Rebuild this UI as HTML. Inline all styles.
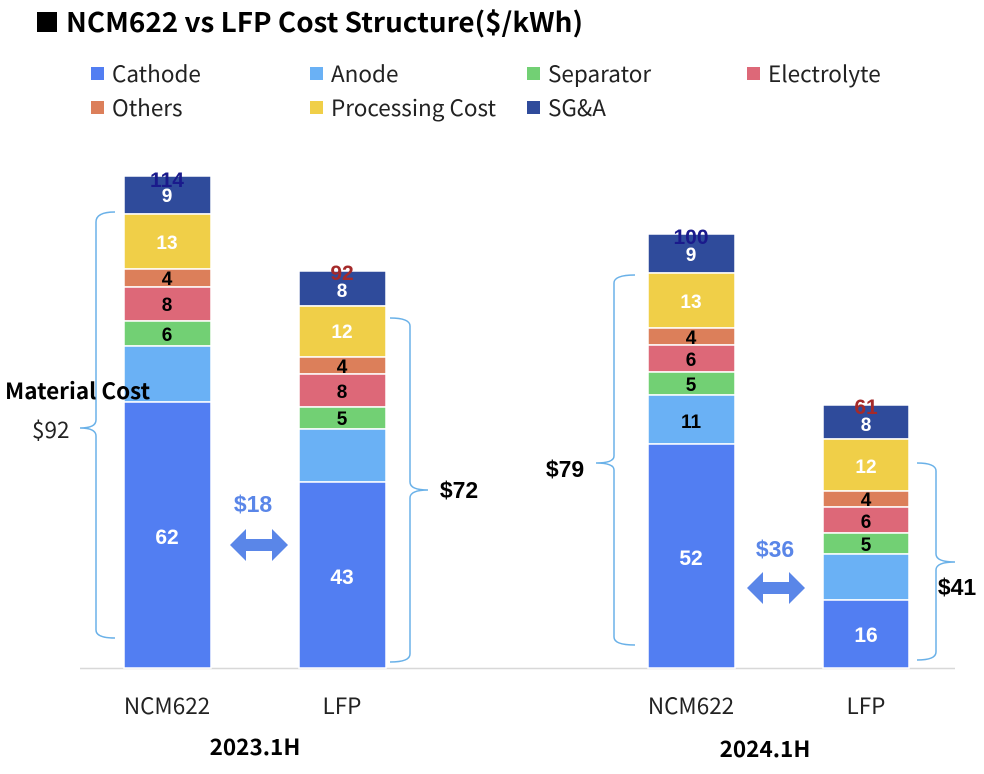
<!DOCTYPE html>
<html><head><meta charset="utf-8"><style>
html,body{margin:0;padding:0;background:#fff;width:984px;height:774px;overflow:hidden}
svg{display:block}
.n{font-family:"Noto Sans CJK SC","Liberation Sans",sans-serif}
.b{font-family:"Liberation Sans Narrow","Liberation Sans",sans-serif;font-weight:bold}
</style></head><body>
<svg width="984" height="774" viewBox="0 0 984 774" xmlns="http://www.w3.org/2000/svg">
<rect x="37" y="12" width="20" height="20" fill="#000"/>
<text class="n" x="66" y="32" font-size="27" font-weight="bold" fill="#000" textLength="517" lengthAdjust="spacingAndGlyphs">NCM622 vs LFP Cost Structure($/kWh)</text>
<g class="n" font-size="22.5" fill="#222">
<rect x="91" y="67" width="13" height="13" fill="#527ef2"/><text x="112" y="82">Cathode</text>
<rect x="310" y="67" width="13" height="13" fill="#6ab1f5"/><text x="331" y="82">Anode</text>
<rect x="527" y="67" width="13" height="13" fill="#72d074"/><text x="548" y="82">Separator</text>
<rect x="747" y="67" width="13" height="13" fill="#dd6878"/><text x="768" y="82">Electrolyte</text>
<rect x="91" y="101" width="13" height="13" fill="#dc7f5a"/><text x="112" y="116">Others</text>
<rect x="310" y="101" width="13" height="13" fill="#f0cf48"/><text x="331" y="116">Processing Cost</text>
<rect x="527" y="101" width="13" height="13" fill="#2f4b9b"/><text x="548" y="116">SG&amp;A</text>
</g>
<line x1="80" y1="668.5" x2="955" y2="668.5" stroke="#d8d8d8" stroke-width="1.5"/>
<g stroke="#fff" stroke-width="1.5">
<rect x="124" y="176" width="87" height="38" fill="#2f4b9b"/>
<rect x="124" y="214" width="87" height="55" fill="#f0cf48"/>
<rect x="124" y="269" width="87" height="18" fill="#dc7f5a"/>
<rect x="124" y="287" width="87" height="34" fill="#dd6878"/>
<rect x="124" y="321" width="87" height="25" fill="#72d074"/>
<rect x="124" y="346" width="87" height="56" fill="#6ab1f5"/>
<rect x="124" y="402" width="87" height="266" fill="#527ef2"/>
<rect x="299" y="271" width="87" height="35" fill="#2f4b9b"/>
<rect x="299" y="306" width="87" height="51" fill="#f0cf48"/>
<rect x="299" y="357" width="87" height="17" fill="#dc7f5a"/>
<rect x="299" y="374" width="87" height="33" fill="#dd6878"/>
<rect x="299" y="407" width="87" height="22" fill="#72d074"/>
<rect x="299" y="429" width="87" height="53" fill="#6ab1f5"/>
<rect x="299" y="482" width="87" height="186" fill="#527ef2"/>
<rect x="648" y="234" width="87" height="39" fill="#2f4b9b"/>
<rect x="648" y="273" width="87" height="55" fill="#f0cf48"/>
<rect x="648" y="328" width="87" height="17" fill="#dc7f5a"/>
<rect x="648" y="345" width="87" height="27" fill="#dd6878"/>
<rect x="648" y="372" width="87" height="23" fill="#72d074"/>
<rect x="648" y="395" width="87" height="49" fill="#6ab1f5"/>
<rect x="648" y="444" width="87" height="224" fill="#527ef2"/>
<rect x="823" y="405" width="86" height="34" fill="#2f4b9b"/>
<rect x="823" y="439" width="86" height="52" fill="#f0cf48"/>
<rect x="823" y="491" width="86" height="16" fill="#dc7f5a"/>
<rect x="823" y="507" width="86" height="26" fill="#dd6878"/>
<rect x="823" y="533" width="86" height="21" fill="#72d074"/>
<rect x="823" y="554" width="86" height="46" fill="#6ab1f5"/>
<rect x="823" y="600" width="86" height="68" fill="#527ef2"/>
</g>
<g class="b" font-size="19" text-anchor="middle">
<text x="167" y="202" fill="#fff">9</text><text x="167" y="249" fill="#fff">13</text>
<text x="167" y="285" fill="#000">4</text><text x="167" y="311" fill="#000">8</text>
<text x="167" y="341" fill="#000">6</text><text x="167" y="544" fill="#fff" font-size="21">62</text>
<text x="342" y="297" fill="#fff">8</text><text x="342" y="338" fill="#fff">12</text>
<text x="342" y="373" fill="#000">4</text><text x="342" y="398" fill="#000">8</text>
<text x="342" y="425" fill="#000">5</text><text x="342" y="584" fill="#fff" font-size="21">43</text>
<text x="691" y="261" fill="#fff">9</text><text x="691" y="308" fill="#fff">13</text>
<text x="691" y="344" fill="#000">4</text><text x="691" y="366" fill="#000">6</text>
<text x="691" y="391" fill="#000">5</text><text x="691" y="428" fill="#000">11</text>
<text x="691" y="565" fill="#fff" font-size="21">52</text>
<text x="866" y="431" fill="#fff">8</text><text x="866" y="473" fill="#fff">12</text>
<text x="866" y="506" fill="#000">4</text><text x="866" y="528" fill="#000">6</text>
<text x="866" y="551" fill="#000">5</text><text x="866" y="642" fill="#fff" font-size="21">16</text>
<text x="167" y="187" fill="#1a1a8c" font-size="21">114</text>
<text x="342" y="280" fill="#a52a2a" font-size="21">92</text>
<text x="691" y="244" fill="#1a1a8c" font-size="21">100</text>
<text x="866" y="414" fill="#a52a2a" font-size="21">61</text>
<text x="253" y="512" fill="#5a86e8" font-size="23">$18</text>
<text x="775" y="557" fill="#5a86e8" font-size="23">$36</text>
<text x="459" y="498" fill="#000" font-size="23">$72</text>
<text x="565" y="477" fill="#000" font-size="23">$79</text>
<text x="957" y="595" fill="#000" font-size="23">$41</text>
</g>
<g fill="#5a86e8">
<path d="M230 545 L246 529 L246 539 L272 539 L272 529 L288 545 L272 561 L272 551 L246 551 L246 561 Z"/>
<path d="M747 588 L763 572 L763 582 L789 582 L789 572 L805 588 L789 604 L789 594 L763 594 L763 604 Z"/>
</g>
<g fill="none" stroke="#6ab1e8" stroke-width="1.5">
<path d="M115 212 Q96 212 96 222 L96 420 Q96 428 80 428 Q96 428 96 436 L96 630 Q96 638 115 638"/>
<path d="M390 318 Q410 318 410 326 L410 482 Q410 490 428 490 Q410 490 410 498 L410 654 Q410 662 390 662"/>
<path d="M635 275 Q614 275 614 283 L614 456 Q614 463 596 463 Q614 463 614 470 L614 637 Q614 645 635 645"/>
<path d="M917 463 Q936 463 936 471 L936 554 Q936 562 955 562 Q936 562 936 570 L936 652 Q936 660 917 660"/>
</g>
<text class="n" x="5" y="399" font-size="22.5" font-weight="bold" fill="#000">Material Cost</text>
<text class="n" x="32" y="438" font-size="22.5" fill="#222">$92</text>
<g class="n" font-size="22.5" fill="#222" text-anchor="middle">
<text x="167" y="714">NCM622</text><text x="342" y="714">LFP</text>
<text x="691" y="714">NCM622</text><text x="866" y="714">LFP</text>
</g>
<g class="n" font-size="22.5" font-weight="bold" fill="#000" text-anchor="middle">
<text x="255" y="755">2023.1H</text><text x="765" y="757">2024.1H</text>
</g>
</svg>
</body></html>
